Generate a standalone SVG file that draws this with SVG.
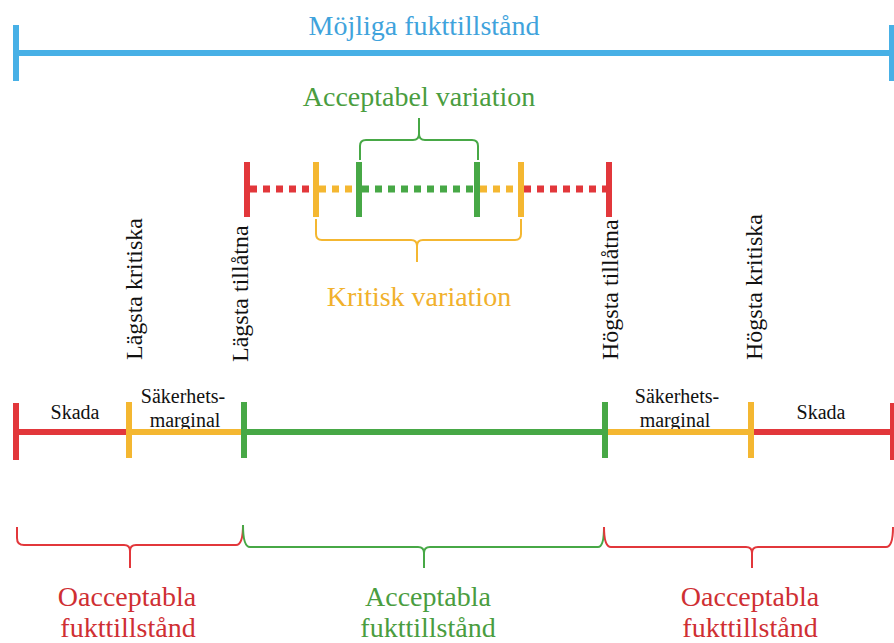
<svg xmlns="http://www.w3.org/2000/svg" width="894" height="643" viewBox="0 0 894 643" font-family="'Liberation Serif', 'Times New Roman', serif">
<style>
.big{font-family:'Liberation Serif','Times New Roman',serif;font-size:28px;text-anchor:middle;}
.vert{font-family:'Liberation Serif','Times New Roman',serif;font-size:24px;fill:#111;}
.seg{font-family:'Liberation Serif','Times New Roman',serif;font-size:20px;fill:#111;text-anchor:middle;}
.solid{fill:none;stroke-width:6;stroke-linecap:butt;}
.dot{fill:none;stroke-width:7;stroke-dasharray:7 6;}
.tick{fill:none;stroke-width:6;}
.brace{fill:none;stroke-width:2;stroke-linejoin:round;}
.red{stroke:#e2373b;} .yel{stroke:#f4b731;} .grn{stroke:#47a846;} .blu{stroke:#47b0e6;}
</style>
<rect width="894" height="643" fill="#ffffff"/>

<g id="mojliga">
<text class="big" x="424" y="35" fill="#3fa3dc">Möjliga fukttillstånd</text>
<line class="solid blu" x1="16" y1="53" x2="894" y2="53"/>
<line class="tick blu" x1="16" y1="25" x2="16" y2="81"/>
<line class="tick blu" x1="892" y1="25" x2="892" y2="81"/>
</g>

<g id="acceptabel-variation">
<text class="big" x="419" y="106" fill="#4a9d40">Acceptabel variation</text>
<path class="brace grn" d="M360 160 V146 Q360 140 366 140 H413 Q419 140 419 134 V118 M419 134 Q419 140 425 140 H472 Q478 140 478 146 V160"/>
</g>

<g id="variation-line">
<line class="dot red" x1="250" y1="189" x2="316" y2="189"/>
<line class="dot yel" x1="319" y1="189" x2="359" y2="189"/>
<line class="dot grn" x1="362" y1="189" x2="477" y2="189"/>
<line class="dot yel" x1="480" y1="189" x2="521" y2="189"/>
<line class="dot red" x1="524" y1="189" x2="609" y2="189"/>
<line class="tick red" x1="247" y1="162" x2="247" y2="217"/>
<line class="tick yel" x1="316" y1="162" x2="316" y2="217"/>
<line class="tick grn" x1="359" y1="162" x2="359" y2="217"/>
<line class="tick grn" x1="477" y1="162" x2="477" y2="217"/>
<line class="tick yel" x1="521" y1="162" x2="521" y2="217"/>
<line class="tick red" x1="609" y1="162" x2="609" y2="217"/>
</g>

<g id="kritisk-variation">
<path class="brace yel" d="M316 219 V234 Q316 240 322 240 H411 Q417 240 417 246 V262 M417 246 Q417 240 423 240 H515 Q521 240 521 234 V219"/>
<text class="big" x="419" y="306" fill="#f1b12c">Kritisk variation</text>
</g>

<g id="labels">
<text class="vert" transform="translate(142 360) rotate(-90)">Lägsta kritiska</text>
<text class="vert" transform="translate(248 362) rotate(-90)">Lägsta tillåtna</text>
<text class="vert" transform="translate(618 360) rotate(-90)">Högsta tillåtna</text>
<text class="vert" transform="translate(762 360) rotate(-90)">Högsta kritiska</text>
</g>

<g id="scale">
<text class="seg" x="75" y="419">Skada</text>
<text class="seg" x="183" y="403">Säkerhets-</text>
<text class="seg" x="185" y="427">marginal</text>
<text class="seg" x="677" y="403">Säkerhets-</text>
<text class="seg" x="675" y="427">marginal</text>
<text class="seg" x="821" y="419">Skada</text>
<line class="solid red" x1="16" y1="432" x2="129" y2="432"/>
<line class="solid yel" x1="129" y1="432" x2="244" y2="432"/>
<line class="solid grn" x1="244" y1="432" x2="605" y2="432"/>
<line class="solid yel" x1="605" y1="432" x2="751" y2="432"/>
<line class="solid red" x1="751" y1="432" x2="894" y2="432"/>
<line class="tick red" x1="16" y1="403" x2="16" y2="460"/>
<line class="tick yel" x1="129" y1="402" x2="129" y2="458"/>
<line class="tick grn" x1="244" y1="402" x2="244" y2="458"/>
<line class="tick grn" x1="605" y1="402" x2="605" y2="458"/>
<line class="tick yel" x1="751" y1="402" x2="751" y2="458"/>
<line class="tick red" x1="893" y1="403" x2="893" y2="460"/>
</g>

<g id="oacceptabla-left">
<path class="brace red" d="M17 527 V538 Q17 545 24 545 H124 Q130 545 130 551 V568 M130 551 Q130 545 136 545 H236 Q243 545 243 525"/>
<text class="big" x="127" y="606" fill="#cf2f33">Oacceptabla</text>
<text class="big" x="128" y="637" fill="#cf2f33">fukttillstånd</text>
</g>

<g id="acceptabla">
<path class="brace grn" d="M243 525 Q243 547 250 547 H418 Q424 547 424 553 V568 M424 553 Q424 547 430 547 H598 Q604 547 604 527"/>
<text class="big" x="428" y="606" fill="#4a9d40">Acceptabla</text>
<text class="big" x="428" y="637" fill="#4a9d40">fukttillstånd</text>
</g>

<g id="oacceptabla-right">
<path class="brace red" d="M604 527 Q604 547 611 547 H746 Q752 547 752 553 V568 M752 553 Q752 547 758 547 H886 Q893 547 893 527"/>
<text class="big" x="750" y="606" fill="#cf2f33">Oacceptabla</text>
<text class="big" x="750" y="637" fill="#cf2f33">fukttillstånd</text>
</g>
</svg>
